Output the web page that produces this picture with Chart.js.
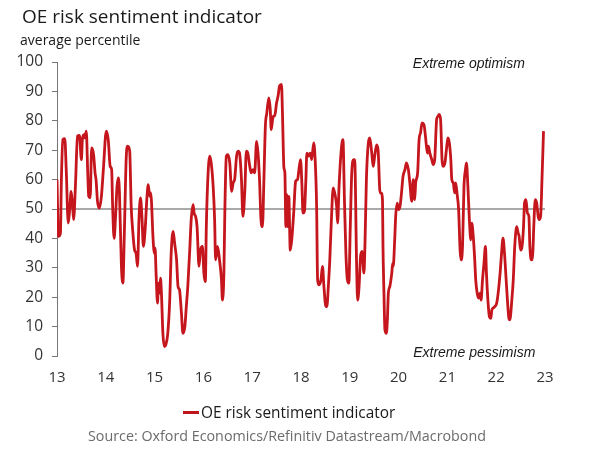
<!DOCTYPE html>
<html>
<head>
<meta charset="utf-8">
<script src="https://cdn.jsdelivr.net/npm/chart.js@4.4.1/dist/chart.umd.min.js"></script>
<style>
    html, body { margin: 0; padding: 0; background: #fff; }
    #wrap { position: relative; width: 600px; height: 455px; overflow: hidden; font-family: "Open Sans", sans-serif; }
    #chart { position: absolute; left: 0; top: 0; }
    .txt { position: absolute; white-space: nowrap; line-height: 1; }
    #title { left: 22px; top: 7px; font-size: 19px; color: #1a1a1a; }
    #subtitle { left: 20px; top: 33px; font-size: 14px; color: #1a1a1a; }
    #legend { left: 183px; top: 405px; font-size: 15.4px; color: #1a1a1a; }
    #legend .swatch { display: inline-block; width: 16px; height: 3px; background: #C0141C; vertical-align: middle; margin-right: 2px; position: relative; top: -1px; }
    #source { left: 88px; top: 429px; font-size: 14.3px; color: #6b6b6b; }
</style>
</head>
<body>
<div id="wrap">
    <canvas id="chart" width="600" height="455"></canvas>
    <div class="txt" id="title">OE risk sentiment indicator</div>
    <div class="txt" id="subtitle">average percentile</div>
    <div class="txt" id="legend"><span class="swatch"></span>OE risk sentiment indicator</div>
    <div class="txt" id="source">Source: Oxford Economics/Refinitiv Datastream/Macrobond</div>
</div>
<script>
// Time axis in year labels (13 = 2013 ... 23 = 2023)
const years = [
    13.00, 13.03, 13.07, 13.09, 13.12, 13.16, 13.19, 13.23, 13.26, 13.29,
    13.32, 13.34, 13.38, 13.42, 13.46, 13.50, 13.52, 13.55, 13.57, 13.60,
    13.63, 13.65, 13.68, 13.71, 13.75, 13.78, 13.80, 13.83, 13.87, 13.91,
    13.95, 14.01, 14.05, 14.09, 14.12, 14.14, 14.17, 14.20, 14.23, 14.26,
    14.28, 14.32, 14.35, 14.38, 14.42, 14.45, 14.49, 14.52, 14.55, 14.59,
    14.62, 14.65, 14.68, 14.71, 14.74, 14.77, 14.81, 14.84, 14.87, 14.90,
    14.92, 14.97, 14.99, 15.01, 15.03, 15.06, 15.08, 15.10, 15.12, 15.14,
    15.17, 15.20, 15.23, 15.27, 15.31, 15.34, 15.38, 15.41, 15.45, 15.48,
    15.51, 15.55, 15.58, 15.62, 15.65, 15.68, 15.72, 15.75, 15.79, 15.81,
    15.84, 15.87, 15.91, 15.94, 15.98, 16.01, 16.04, 16.06, 16.09, 16.13,
    16.16, 16.20, 16.23, 16.25, 16.29, 16.33, 16.37, 16.39, 16.42, 16.44,
    16.47, 16.50, 16.54, 16.58, 16.61, 16.64, 16.68, 16.71, 16.74, 16.78,
    16.81, 16.85, 16.88, 16.91, 16.95, 16.98, 17.02, 17.05, 17.09, 17.12,
    17.15, 17.18, 17.21, 17.24, 17.27, 17.30, 17.34, 17.37, 17.39, 17.43,
    17.46, 17.50, 17.53, 17.56, 17.60, 17.62, 17.65, 17.67, 17.69, 17.71,
    17.73, 17.75, 17.78, 17.81, 17.85, 17.89, 17.93, 17.95, 17.99, 18.02,
    18.04, 18.07, 18.10, 18.12, 18.16, 18.19, 18.22, 18.26, 18.29, 18.32,
    18.34, 18.37, 18.41, 18.44, 18.47, 18.51, 18.53, 18.56, 18.59, 18.62,
    18.66, 18.69, 18.73, 18.75, 18.78, 18.81, 18.84, 18.86, 18.89, 18.92,
    18.95, 18.98, 19.01, 19.04, 19.08, 19.10, 19.14, 19.16, 19.19, 19.22,
    19.25, 19.29, 19.31, 19.34, 19.38, 19.41, 19.45, 19.48, 19.51, 19.55,
    19.58, 19.62, 19.64, 19.67, 19.68, 19.70, 19.72, 19.75, 19.77, 19.79,
    19.82, 19.86, 19.88, 19.89, 19.92, 19.94, 19.97, 20.00, 20.03, 20.06,
    20.09, 20.13, 20.16, 20.20, 20.23, 20.27, 20.30, 20.33, 20.35, 20.39,
    20.42, 20.45, 20.48, 20.52, 20.55, 20.59, 20.61, 20.64, 20.68, 20.71,
    20.74, 20.78, 20.81, 20.83, 20.86, 20.89, 20.91, 20.95, 20.98, 21.01,
    21.04, 21.07, 21.09, 21.12, 21.15, 21.17, 21.20, 21.23, 21.26, 21.28,
    21.31, 21.34, 21.37, 21.39, 21.42, 21.45, 21.48, 21.50, 21.53, 21.56,
    21.58, 21.61, 21.64, 21.67, 21.69, 21.72, 21.75, 21.78, 21.80, 21.83,
    21.86, 21.89, 21.91, 21.94, 21.97, 22.01, 22.04, 22.08, 22.11, 22.14,
    22.17, 22.20, 22.23, 22.26, 22.28, 22.32, 22.35, 22.38, 22.42, 22.45,
    22.47, 22.50, 22.53, 22.56, 22.58, 22.61, 22.64, 22.67, 22.69, 22.72,
    22.75, 22.77, 22.80, 22.83, 22.86, 22.88, 22.91, 22.94, 22.97
];

// OE risk sentiment indicator, average percentile
const sentiment = [
    60.0, 40.7, 41.8, 60.0, 73.6, 73.9, 63.0, 45.2, 49.8, 56.0,
    51.0, 46.4, 58.9, 74.8, 75.0, 66.8, 73.6, 75.3, 74.2, 76.5,
    62.3, 54.3, 53.8, 70.8, 68.5, 62.3, 60.0, 52.6, 50.3, 54.3,
    63.4, 76.5, 73.6, 64.5, 63.4, 51.0, 40.0, 47.5, 57.7, 60.6,
    55.5, 30.5, 24.8, 41.8, 68.0, 71.4, 69.7, 51.0, 43.0, 36.0,
    35.0, 30.5, 46.4, 53.8, 47.5, 37.3, 44.0, 53.2, 58.3, 54.3,
    55.5, 39.5, 35.0, 36.7, 28.2, 18.0, 24.8, 21.4, 26.5, 21.4,
    7.7, 3.2, 3.8, 7.7, 19.0, 35.0, 42.4, 38.4, 32.7, 23.6,
    22.5, 14.5, 7.7, 10.0, 16.8, 23.6, 36.0, 46.4, 51.5, 48.6,
    47.5, 44.0, 30.5, 36.0, 37.3, 28.2, 25.3, 44.0, 60.0, 68.0,
    65.7, 57.7, 46.4, 32.7, 37.3, 32.7, 26.0, 19.0, 28.2, 49.8,
    68.0, 68.5, 65.7, 56.0, 58.9, 60.0, 68.0, 69.7, 69.0, 60.0,
    47.5, 56.6, 69.7, 69.0, 64.5, 62.3, 63.4, 62.3, 73.0, 69.0,
    60.0, 46.4, 44.0, 60.0, 78.2, 82.7, 87.8, 83.9, 77.0, 81.6,
    81.6, 86.1, 88.4, 91.8, 92.4, 82.7, 64.0, 62.3, 44.0, 54.9,
    44.0, 54.3, 36.0, 39.5, 48.6, 59.4, 60.0, 62.3, 66.8, 57.7,
    48.6, 49.2, 60.0, 69.0, 68.0, 69.0, 66.8, 72.5, 66.8, 51.0,
    26.0, 24.2, 26.0, 30.5, 23.6, 16.8, 16.8, 23.6, 32.7, 45.2,
    57.2, 55.5, 51.0, 45.2, 57.7, 66.8, 72.5, 73.6, 53.2, 35.0,
    26.0, 24.8, 44.0, 62.3, 66.8, 66.8, 30.5, 19.0, 23.6, 33.8,
    35.6, 28.2, 37.3, 60.0, 72.5, 74.2, 69.0, 64.5, 68.0, 71.8,
    70.0, 55.5, 55.5, 53.2, 37.3, 21.4, 8.9, 7.7, 12.3, 21.4,
    23.6, 28.2, 31.6, 30.5, 39.5, 47.5, 52.0, 49.8, 51.0, 55.5,
    61.0, 63.4, 65.7, 63.4, 58.9, 52.6, 60.0, 53.2, 58.9, 62.3,
    73.6, 75.9, 79.3, 78.7, 74.8, 69.0, 71.4, 69.0, 66.8, 65.1,
    66.8, 80.5, 81.6, 82.2, 80.5, 66.8, 64.5, 65.7, 70.2, 74.2,
    72.5, 66.8, 60.0, 58.9, 55.5, 58.9, 54.9, 49.8, 36.0, 32.7,
    37.3, 57.7, 63.4, 65.7, 57.7, 46.4, 39.5, 45.2, 40.7, 32.7,
    26.0, 21.4, 19.7, 21.4, 19.0, 26.0, 31.6, 37.3, 28.2, 19.0,
    13.4, 12.8, 15.6, 16.3, 16.8, 18.0, 21.4, 28.2, 35.0, 40.1,
    35.0, 27.0, 19.0, 12.8, 12.3, 19.0, 26.0, 37.3, 44.0, 41.8,
    40.7, 36.0, 37.3, 44.0, 52.0, 53.2, 48.6, 47.5, 37.3, 32.7,
    35.0, 44.0, 53.2, 52.0, 47.5, 46.4, 47.5, 61.0, 76.5
];

const axisMin = 13;
const axisMax = 23;
const neutralLevel = 50;

// Annotations placed in data units
const notes = [
    { text: 'Extreme optimism', x: 21.44, y: 99.2 },
    { text: 'Extreme pessimism', x: 21.55, y: 0.9 }
];

const notesPlugin = {
    id: 'notes',
    afterDraw(chart) {
        const { ctx, scales: { x, y } } = chart;
        ctx.save();
        ctx.font = 'italic 14px "Liberation Sans", Arial, sans-serif';
        ctx.fillStyle = '#1a1a1a';
        ctx.textAlign = 'center';
        ctx.textBaseline = 'middle';
        notes.forEach(n => {
            ctx.fillText(n.text, x.getPixelForValue(n.x), y.getPixelForValue(n.y));
        });
        ctx.restore();
    }
};

const points = years.map((yr, i) => ({ x: yr, y: sentiment[i] }));

new Chart(document.getElementById('chart').getContext('2d'), {
    type: 'line',
    data: {
        datasets: [
            {
                label: 'OE risk sentiment indicator',
                data: points,
                borderColor: '#C4161C',
                borderWidth: 2.8,
                pointRadius: 0,
                cubicInterpolationMode: 'monotone',
                order: 0
            },
            {
                label: 'neutral',
                data: [{ x: axisMin, y: neutralLevel }, { x: axisMax, y: neutralLevel }],
                borderColor: '#555',
                borderWidth: 1,
                pointRadius: 0,
                order: 1
            }
        ]
    },
    options: {
        responsive: false,
        devicePixelRatio: 1,
        animation: false,
        layout: { padding: { top: 62, right: 55, bottom: 0, left: 0 } },
        plugins: {
            legend: { display: false },
            tooltip: { enabled: false }
        },
        scales: {
            x: {
                type: 'linear',
                min: axisMin,
                max: axisMax,
                afterFit: scale => { scale.height = 99; },
                grid: { display: false, drawTicks: false },
                border: { display: false },
                ticks: {
                    stepSize: 1,
                    padding: 13,
                    color: '#333',
                    font: { family: '"Open Sans", sans-serif', size: 15 }
                }
            },
            y: {
                min: 0,
                max: 100,
                afterFit: scale => { scale.width = 57; },
                grid: { drawOnChartArea: false, tickLength: 5, color: '#777' },
                border: { color: '#777' },
                ticks: {
                    stepSize: 10,
                    padding: 9,
                    color: '#333',
                    font: { family: '"Open Sans", sans-serif', size: 15.5 }
                }
            }
        }
    },
    plugins: [notesPlugin]
});
</script>
</body>
</html>
